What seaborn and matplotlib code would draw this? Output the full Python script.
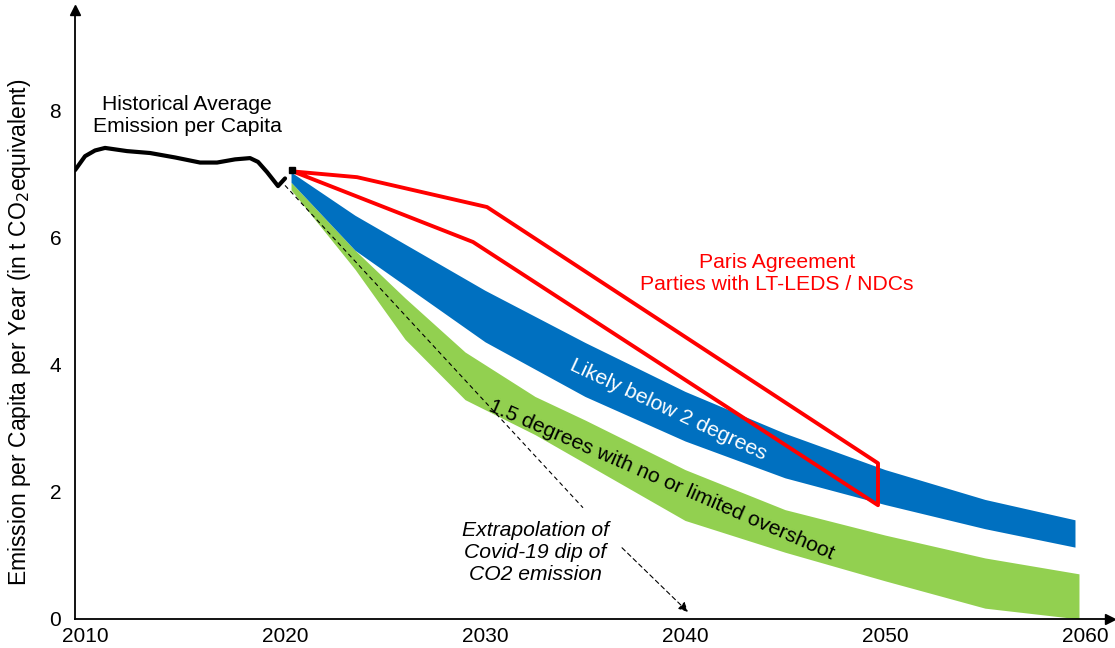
import numpy as np
import pandas as pd
import matplotlib.pyplot as plt
import seaborn as sns

# Historical average emission per capita
hist_years = [2009.5, 2010.0, 2010.5, 2011.0, 2012.1, 2013.25, 2014.5, 2015.75, 2016.6,
              2017.5, 2018.25, 2018.65, 2019.1, 2019.65, 2020.0]
hist_values = [7.06, 7.28, 7.37, 7.41, 7.36, 7.33, 7.26, 7.18, 7.18,
               7.23, 7.25, 7.19, 7.03, 6.81, 6.93]

# Paris Agreement LT-LEDS / NDCs envelope (closed outline)
paris_years = [2020.4, 2023.6, 2030.1, 2049.65, 2049.65, 2029.4, 2020.4]
paris_values = [7.04, 6.95, 6.48, 2.45, 1.79, 5.93, 7.04]

# Likely below 2 degrees band
below2_years = [2020.3, 2023.5, 2030, 2035, 2040, 2045, 2050, 2055, 2059.5]
below2_upper = [7.03, 6.35, 5.17, 4.35, 3.58, 2.92, 2.35, 1.88, 1.56]
below2_lower = [6.87, 5.80, 4.36, 3.50, 2.80, 2.22, 1.80, 1.42, 1.13]

# 1.5 degrees band
deg15_years = [2020.3, 2023.5, 2026, 2029, 2032.5, 2035, 2040, 2045, 2050, 2055, 2059.7]
deg15_upper = [6.87, 5.80, 5.05, 4.20, 3.50, 3.13, 2.35, 1.72, 1.32, 0.96, 0.71]
deg15_lower = [6.75, 5.50, 4.40, 3.45, 2.90, 2.45, 1.55, 1.05, 0.60, 0.17, 0.00]

# Covid-19 dip extrapolation (dashed)
covid_years = [2020.0, 2034.9, 2036.85, 2040.15]
covid_values = [6.82, 1.75, 1.12, 0.11]

x_ticks = [2010, 2020, 2030, 2040, 2050, 2060]
y_ticks = [0, 2, 4, 6, 8]

sns.set_theme(style="white")
plt.rcParams['font.family'] = ['Liberation Sans', 'DejaVu Sans']

fig = plt.figure(figsize=(11.15, 6.48), dpi=100)
ax = fig.add_axes([0.0673, 0.0448, 0.9282, 0.9398])

blue = "#0070C0"
green = "#92D050"
red = "#FF0000"

ax.fill_between(deg15_years, deg15_lower, deg15_upper, color=green, lw=0, zorder=2)
ax.fill_between(below2_years, below2_lower, below2_upper, color=blue, lw=0, zorder=2)

sns.lineplot(x=hist_years, y=hist_values, color="black", lw=3, sort=False, ax=ax, zorder=4,
             solid_joinstyle="round", solid_capstyle="round")
ax.plot([2020.35], [7.06], marker="s", ms=4, color="black", zorder=5)

paris = pd.DataFrame({"year": paris_years, "value": paris_values})
sns.lineplot(data=paris, x="year", y="value", color=red, lw=2.8, sort=False,
             estimator=None, ax=ax, zorder=4)

# dashed extrapolation, interrupted by its label
ax.plot(covid_years[:2], covid_values[:2], color="black", lw=0.8, ls=(0, (4, 3)), zorder=5)
ax.annotate("", xy=(covid_years[3], covid_values[3]), xytext=(covid_years[2], covid_values[2]),
            arrowprops=dict(arrowstyle="-|>", color="black", lw=0.8, ls=(0, (4, 3)),
                            mutation_scale=14, shrinkA=0, shrinkB=0), zorder=5)

fs = 15.2
ax.text(2015.1, 7.92, "Historical Average\nEmission per Capita", ha="center", va="center",
        fontsize=fs, linespacing=1.2, color="black")
ax.text(2044.6, 5.44, "Paris Agreement\nParties with LT-LEDS / NDCs", ha="center", va="center",
        fontsize=fs, linespacing=1.2, color=red)
ax.text(2039.15, 3.29, "Likely below 2 degrees", ha="center", va="center",
        fontsize=fs, color="white", rotation=-25, rotation_mode="anchor", zorder=6)
ax.text(2038.85, 2.19, "1.5 degrees with no or limited overshoot", ha="center", va="center",
        fontsize=fs, color="black", rotation=-23.5, rotation_mode="anchor", zorder=6)
ax.text(2032.5, 1.05, "Extrapolation of\nCovid-19 dip of\nCO2 emission", ha="center", va="center",
        fontsize=fs, style="italic", linespacing=1.2, color="black")

ax.set_xlim(2009.5, 2061.25)
ax.set_ylim(0, 9.58)
ax.set_xticks(x_ticks)
ax.set_yticks(y_ticks)
ax.tick_params(axis="both", labelsize=15, length=0, colors="black")
ax.tick_params(axis="x", pad=6)
ax.tick_params(axis="y", pad=10)
ax.set_xlabel("")
ax.set_ylabel("Emission per Capita per Year (in t CO$_2$equivalent)", fontsize=16.5, color="black")
ax.yaxis.set_label_coords(-0.041, 0.47)

for side in ["top", "right"]:
    ax.spines[side].set_visible(False)
for side in ["left", "bottom"]:
    ax.spines[side].set_color("black")
    ax.spines[side].set_linewidth(1.3)

# axis arrowheads
ax.plot(1, 0, ">", color="black", ms=7, transform=ax.transAxes, clip_on=False)
ax.plot(0, 1, "^", color="black", ms=7, transform=ax.transAxes, clip_on=False)

fig.savefig("out.png", dpi=100)
